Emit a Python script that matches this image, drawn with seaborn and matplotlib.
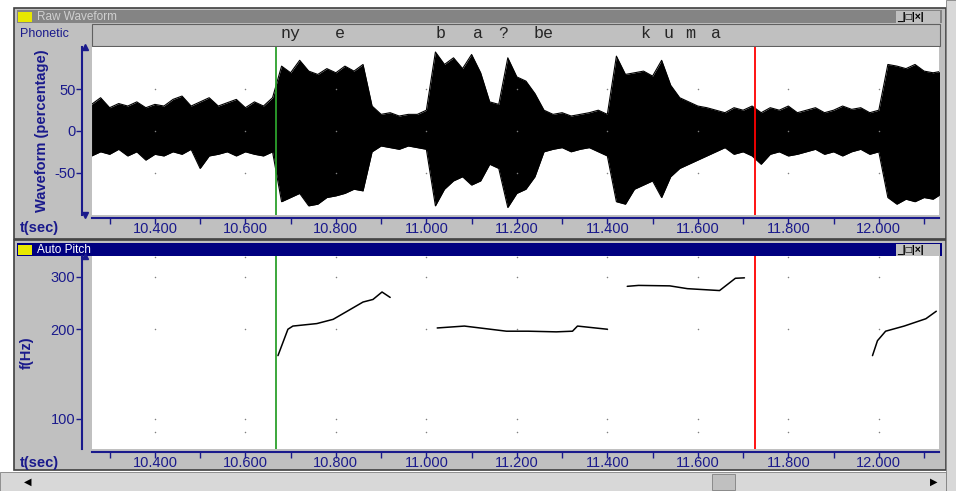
import numpy as np
import pandas as pd
import matplotlib
matplotlib.use("Agg")
import matplotlib.pyplot as plt
import matplotlib.transforms as mtrans
from matplotlib.patches import Rectangle
import seaborn as sns

sns.set_theme(style="white")
plt.rcParams["font.family"] = ["Liberation Sans", "DejaVu Sans"]

# ── data ────────────────────────────────────────────────────
t_start, t_step = 10.26, 0.02
wave_upper = [32, 40, 28, 33, 30, 35, 28, 32, 30, 38, 42, 30, 35, 40, 30, 34, 38, 28, 35, 30,
              40, 78, 70, 85, 72, 68, 75, 70, 78, 72, 80, 30, 20, 22, 18, 20, 20, 25,
              95, 80, 88, 75, 92, 70, 35, 32, 88, 65, 60, 45, 25, 20, 22, 18, 20, 22, 25,
              20, 90, 68, 70, 72, 66, 85, 55, 40, 35, 30, 28, 25, 22, 28, 25, 30, 22, 28,
              25, 30, 22, 25, 28, 22, 25, 30, 26, 28, 22, 25, 80, 78, 75, 80, 72, 70, 72]
wave_lower = [-30, -25, -28, -22, -30, -25, -35, -28, -30, -25, -28, -22, -45, -30, -28, -25,
              -30, -25, -28, -30, -25, -85, -80, -75, -90, -88, -80, -78, -75, -70, -72, -25,
              -18, -20, -22, -18, -20, -22, -90, -70, -60, -55, -65, -60, -40, -45, -92,
              -75, -70, -55, -25, -22, -20, -25, -22, -20, -25, -30, -85, -88, -70, -65,
              -60, -80, -55, -45, -40, -35, -30, -25, -20, -28, -25, -30, -40, -28, -25,
              -30, -28, -25, -22, -28, -25, -30, -25, -22, -28, -25, -80, -88, -82, -85,
              -80, -82, -75]

pitch_t = [10.672, 10.694, 10.705, 10.758, 10.794, 10.825, 10.860, 10.882, 10.902, 10.920,
           11.024, 11.084, 11.177, 11.225, 11.287, 11.323, 11.334, 11.400,
           11.444, 11.469, 11.538, 11.577, 11.648, 11.683, 11.703,
           11.986, 11.997, 12.015, 12.056, 12.104, 12.127]
pitch_hz = [163, 200, 205, 209, 216, 230, 247, 252, 267, 256,
            202, 205, 197, 197, 196, 197, 205, 200,
            279, 281, 280, 274, 270, 297, 298,
            163, 183, 197, 205, 217, 230]
pitch_seg = [1] * 10 + [2] * 8 + [3] * 7 + [4] * 6

phones = ["ny", "e", "b", "a", "?", "be", "k", "u", "m", "a"]
phone_t = [10.699, 10.809, 11.031, 11.115, 11.170, 11.258, 11.484, 11.535, 11.584, 11.641]

green_t, red_t = 10.668, 11.726
x_ticks = [10.4, 10.6, 10.8, 11.0, 11.2, 11.4, 11.6, 11.8, 12.0]
wave_ticks = [-50, 0, 50]
pitch_ticks = [100, 200, 300]

# ── figure / window chrome ──────────────────────────────────
W, H = 956, 491
fig = plt.figure(figsize=(W / 100, H / 100), dpi=100)
NAVY = "#1a1a8c"
GRAY = "#c0c0c0"


def box(x0, y0, x1, y1, **kw):
    """rectangle in pixel coords (top-left origin), drawn behind the axes"""
    r = Rectangle((x0 / W, 1 - y1 / H), (x1 - x0) / W, (y1 - y0) / H,
                  transform=fig.transFigure, zorder=-10, **kw)
    fig.patches.append(r)


def txt(x, y, s, **kw):
    fig.text(x / W, 1 - y / H, s, **kw)


def pax(x0, y0, x1, y1):
    return fig.add_axes([x0 / W, 1 - y1 / H, (x1 - x0) / W, (y1 - y0) / H])


# window frames
box(14, 8, 946, 239, facecolor=GRAY, edgecolor="#404040", lw=1.2)
box(14, 240, 946, 470, facecolor=GRAY, edgecolor="#404040", lw=1.2)
box(946, 0, 956, 491, facecolor="#d8d8d8", edgecolor="#808080", lw=0.6)
box(0, 472, 946, 491, facecolor="#d8d8d8", edgecolor="#808080", lw=0.6)
box(712, 474, 735, 490, facecolor=GRAY, edgecolor="#808080", lw=0.6)
txt(24, 482, "◀", fontsize=7, va="center", color="black")
txt(930, 482, "▶", fontsize=7, va="center", color="black")

# title bars
box(17, 10, 942, 23, facecolor="#848484", edgecolor="none")
txt(37, 17, "Raw Waveform", fontsize=8.5, color="#d0d0d0", va="center")
box(17, 243, 942, 256, facecolor="#000080", edgecolor="none")
txt(37, 250, "Auto Pitch", fontsize=8.5, color="white", va="center")
for yy in [17, 250]:
    box(18, yy - 5, 32, yy + 5, facecolor="#e8e800", edgecolor="none")
    box(896, yy - 6, 940, yy + 6, facecolor=GRAY, edgecolor="none")
    txt(897, yy, "_|□|×|", fontsize=7.5, va="center", color="black", fontweight="bold")

# phonetic strip
box(92, 24, 940, 46, facecolor=GRAY, edgecolor="#606060", lw=0.8)
txt(20, 34, "Phonetic", fontsize=9, color=NAVY, va="center")

# ── top: waveform ───────────────────────────────────────────
ax1 = pax(92, 47, 939, 215)
tt = t_start + t_step * np.arange(len(wave_upper))
wave = pd.DataFrame({"t": tt, "up": wave_upper, "lo": wave_lower})
ax1.fill_between(wave["t"], wave["lo"], wave["up"], color="black", lw=0)
sns.lineplot(data=wave, x="t", y="up", ax=ax1, color="black", lw=0.8)
sns.lineplot(data=wave, x="t", y="lo", ax=ax1, color="black", lw=0.8)
ax1.set_ylim(-101, 101)
ax1.set_yticks(wave_ticks)
ax1.set_yticklabels([str(v) for v in wave_ticks])
ax1.set_ylabel("Waveform (percentage)", color=NAVY, fontweight="bold", fontsize=10.5, labelpad=4)

# phonetic labels, placed through the waveform x scale
for p, t in zip(phones, phone_t):
    ax1.text(t, 1.035, p, transform=ax1.get_xaxis_transform(), family="Liberation Mono",
             fontsize=12, ha="center", va="bottom", clip_on=False)

# ── bottom: pitch ───────────────────────────────────────────
ax2 = pax(92, 256, 939, 449)
pitch = pd.DataFrame({"t": pitch_t, "f": pitch_hz, "seg": pitch_seg})
sns.lineplot(data=pitch, x="t", y="f", units="seg", estimator=None, ax=ax2,
             color="black", lw=1.1)
ax2.set_yscale("log")
ax2.set_ylim(79, 353)
ax2.set_yticks(pitch_ticks)
ax2.set_yticklabels([str(v) for v in pitch_ticks])
ax2.yaxis.set_minor_locator(matplotlib.ticker.NullLocator())
ax2.set_ylabel("f(Hz)", color=NAVY, fontweight="bold", fontsize=10.5, labelpad=12)

for ax, yt in [(ax1, wave_ticks), (ax2, pitch_ticks + [90, 350])]:
    ax.set_xlim(10.261, 12.133)
    ax.set_xticks(x_ticks)
    ax.set_xticklabels([f"{v:.3f}" for v in x_ticks])
    ax.set_xticks(np.arange(10.3, 12.15, 0.1), minor=True)
    ax.set_xlabel("")
    ax.set_facecolor("white")
    for s in ["top", "right"]:
        ax.spines[s].set_visible(False)
    ax.spines["left"].set_position(("outward", 7))
    ax.spines["bottom"].set_position(("outward", 2))
    for s in ["left", "bottom"]:
        ax.spines[s].set_color(NAVY)
        ax.spines[s].set_linewidth(1.5)
    ax.tick_params(axis="both", colors=NAVY, labelsize=10.5, length=4, width=1,
                   direction="out", which="both", bottom=True, left=True)
    ax.tick_params(axis="x", pad=-1)
    ax.tick_params(axis="y", pad=1)
    ax.text(-0.085, -0.035, "t(sec)", transform=ax.transAxes, color=NAVY,
            fontweight="bold", fontsize=10.5, ha="left", va="top")
    # arrowheads on the y axis line
    off = mtrans.offset_copy(ax.transAxes, fig=fig, x=-7 * 72 / 100, y=0, units="points")
    ax.plot([0], [1], marker="^", ms=4, color=NAVY, transform=off, clip_on=False)
    if ax is ax1:
        ax.plot([0], [0], marker="v", ms=4, color=NAVY, transform=off, clip_on=False)
    # grid dots at tick intersections
    gx, gy = np.meshgrid(x_ticks, yt)
    ax.scatter(gx.ravel(), gy.ravel(), s=1.2, color="#808080", zorder=1, lw=0)
    ax.axvline(green_t, color="#2ca02c", lw=1.3)
    ax.axvline(red_t, color="red", lw=1.3)
    ax.grid(False)

fig.savefig("out.png", dpi=100)
